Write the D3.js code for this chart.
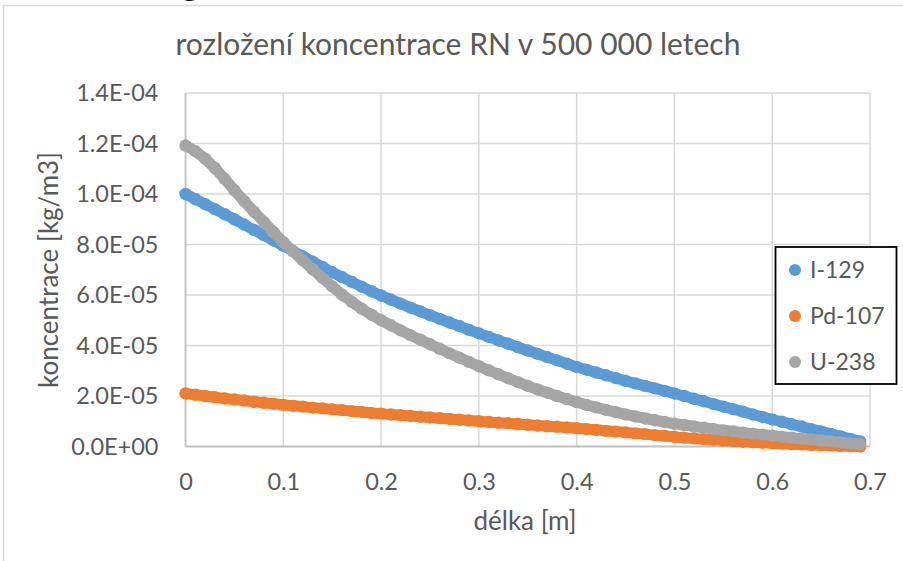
<!DOCTYPE html>
<html>
<head>
<meta charset="utf-8">
<script src="https://cdn.jsdelivr.net/npm/d3@7/dist/d3.min.js"></script>
<style>
  html, body { margin: 0; padding: 0; background: #fff; }
  svg { display: block; }
  text { font-family: Lato, "Open Sans", sans-serif; }
</style>
</head>
<body>
<svg id="chart" width="903" height="561"></svg>
<script>
// ---------- data ----------
const title = "rozložení koncentrace RN v 500 000 letech";
const xTitle = "délka [m]";
const yTitle = "koncentrace [kg/m3]";

const seriesNames = ["I-129", "Pd-107", "U-238"];
const seriesColors = ["#5B9BD5", "#ED7D31", "#A5A5A5"];

// x positions (m)
const xValues = [0.00,0.01,0.02,0.03,0.04,0.05,0.06,0.07,0.08,0.09,
  0.10,0.11,0.12,0.13,0.14,0.15,0.16,0.17,0.18,0.19,
  0.20,0.21,0.22,0.23,0.24,0.25,0.26,0.27,0.28,0.29,
  0.30,0.31,0.32,0.33,0.34,0.35,0.36,0.37,0.38,0.39,
  0.40,0.41,0.42,0.43,0.44,0.45,0.46,0.47,0.48,0.49,
  0.50,0.51,0.52,0.53,0.54,0.55,0.56,0.57,0.58,0.59,
  0.60,0.61,0.62,0.63,0.64,0.65,0.66,0.67,0.68,0.69];

// concentrations in units of 1e-5 kg/m3
const i129 = [10.00,9.80,9.60,9.40,9.20,9.00,8.79,8.58,8.37,8.16,
  7.95,7.74,7.53,7.32,7.11,6.90,6.71,6.52,6.33,6.15,
  5.98,5.82,5.66,5.50,5.35,5.20,5.05,4.91,4.77,4.62,
  4.48,4.34,4.20,4.07,3.93,3.80,3.67,3.54,3.41,3.28,
  3.15,3.04,2.93,2.82,2.71,2.60,2.50,2.40,2.30,2.20,
  2.10,2.00,1.89,1.79,1.68,1.58,1.48,1.38,1.27,1.17,
  1.07,0.98,0.88,0.79,0.69,0.60,0.50,0.40,0.30,0.20];

const pd107 = [2.10,2.05,2.00,1.95,1.90,1.86,1.82,1.77,1.73,1.69,
  1.65,1.61,1.58,1.54,1.51,1.47,1.44,1.40,1.37,1.33,
  1.30,1.27,1.24,1.21,1.18,1.15,1.12,1.09,1.06,1.03,
  1.00,0.97,0.94,0.92,0.89,0.86,0.83,0.80,0.78,0.75,
  0.72,0.69,0.66,0.62,0.59,0.56,0.52,0.49,0.45,0.42,
  0.38,0.35,0.32,0.29,0.27,0.24,0.22,0.19,0.17,0.15,
  0.13,0.11,0.09,0.08,0.06,0.05,0.04,0.02,0.01,0.00];

const u238 = [11.92,11.70,11.40,11.03,10.60,10.15,9.72,9.30,8.90,8.49,
  8.09,7.73,7.37,7.02,6.68,6.34,6.02,5.73,5.46,5.22,
  5.00,4.80,4.60,4.41,4.23,4.05,3.87,3.69,3.52,3.35,
  3.18,3.02,2.86,2.70,2.55,2.40,2.26,2.13,2.00,1.88,
  1.76,1.65,1.55,1.45,1.36,1.27,1.19,1.11,1.04,0.97,
  0.90,0.85,0.79,0.74,0.69,0.64,0.60,0.55,0.51,0.47,
  0.43,0.39,0.35,0.31,0.28,0.24,0.20,0.16,0.12,0.09];

const valueUnit = 1e-5;

const xTicks = [0, 0.1, 0.2, 0.3, 0.4, 0.5, 0.6, 0.7];
const xTickLabels = ["0", "0.1", "0.2", "0.3", "0.4", "0.5", "0.6", "0.7"];
const yTicks = [0, 2e-5, 4e-5, 6e-5, 8e-5, 1e-4, 1.2e-4, 1.4e-4];
const yTickLabels = ["0.0E+00", "2.0E-05", "4.0E-05", "6.0E-05", "8.0E-05", "1.0E-04", "1.2E-04", "1.4E-04"];

// ---------- drawing ----------
const svg = d3.select("#chart");
const textColor = "#595959";

const x = d3.scaleLinear().domain([0, 0.7]).range([185.5, 870]);
const y = d3.scaleLinear().domain([0, 1.4e-4]).range([446.5, 93]);

// chart frame (cut off at right/bottom)
svg.append("rect")
  .attr("x", 3.5).attr("y", 5.5).attr("width", 920).attr("height", 600)
  .attr("fill", "#fff").attr("stroke", "#D9D9D9").attr("stroke-width", 1.5);

// cut-off heading glyph above the chart
svg.append("text")
  .attr("x", 182).attr("y", -4)
  .attr("font-size", 30).attr("font-weight", "bold")
  .attr("fill", "#000").text("g");

// gridlines
const grid = svg.append("g");
grid.selectAll("line.h").data(yTicks.filter(d => d > 0)).join("line")
  .attr("x1", x(0)).attr("x2", x(0.7))
  .attr("y1", d => y(d)).attr("y2", d => y(d))
  .attr("stroke", "#D9D9D9").attr("stroke-width", 1.5);
grid.selectAll("line.v").data(xTicks.filter(d => d > 0)).join("line")
  .attr("y1", y(0)).attr("y2", y(1.4e-4))
  .attr("x1", d => x(d)).attr("x2", d => x(d))
  .attr("stroke", "#D9D9D9").attr("stroke-width", 1.5);

// axis lines
svg.append("line").attr("x1", x(0)).attr("x2", x(0)).attr("y1", y(0)).attr("y2", y(1.4e-4))
  .attr("stroke", "#BFBFBF").attr("stroke-width", 1.8);
svg.append("line").attr("x1", x(0)).attr("x2", x(0.7)).attr("y1", y(0)).attr("y2", y(0))
  .attr("stroke", "#BFBFBF").attr("stroke-width", 1.8);

// axes (labels only)
const yAxis = d3.axisLeft(y).tickValues(yTicks)
  .tickFormat((d, i) => yTickLabels[i]).tickSize(0).tickPadding(27);
const gy = svg.append("g").attr("transform", `translate(${x(0)},0)`).call(yAxis);
gy.select(".domain").remove();
gy.selectAll("text").attr("font-size", 23.5).attr("fill", textColor)
  .attr("font-family", "Lato, 'Open Sans', sans-serif");

const xAxis = d3.axisBottom(x).tickValues(xTicks)
  .tickFormat((d, i) => xTickLabels[i]).tickSize(0).tickPadding(27);
const gx = svg.append("g").attr("transform", `translate(0,${y(0)})`).call(xAxis);
gx.select(".domain").remove();
gx.selectAll("text").attr("font-size", 23.5).attr("fill", textColor)
  .attr("font-family", "Lato, 'Open Sans', sans-serif");

// titles
svg.append("text").attr("x", 458).attr("y", 55).attr("text-anchor", "middle")
  .attr("font-size", 30).attr("fill", textColor).text(title);
svg.append("text").attr("x", 525).attr("y", 530).attr("text-anchor", "middle")
  .attr("font-size", 26).attr("fill", textColor).text(xTitle);
svg.append("text").attr("transform", "translate(58,270) rotate(-90)")
  .attr("text-anchor", "middle").attr("font-size", 26).attr("fill", textColor).text(yTitle);

// series
const allSeries = [i129, pd107, u238];
const line = d3.line().x(d => x(d[0])).y(d => y(d[1]));
allSeries.forEach((vals, si) => {
  const pts = xValues.map((xv, i) => [xv, vals[i] * valueUnit]);
  const g = svg.append("g");
  g.append("path").attr("d", line(pts)).attr("fill", "none")
    .attr("stroke", seriesColors[si]).attr("stroke-width", 11)
    .attr("stroke-linecap", "round").attr("stroke-linejoin", "round");
  g.selectAll("circle").data(pts).join("circle")
    .attr("cx", d => x(d[0])).attr("cy", d => y(d[1])).attr("r", 6.2)
    .attr("fill", seriesColors[si]);
});

// legend
const lg = svg.append("g");
lg.append("rect").attr("x", 775.5).attr("y", 247).attr("width", 121).attr("height", 137)
  .attr("fill", "#fff").attr("stroke", "#000").attr("stroke-width", 1.8);
const legendY = [270, 316, 362];
seriesNames.forEach((name, i) => {
  lg.append("circle").attr("cx", 795).attr("cy", legendY[i]).attr("r", 6)
    .attr("fill", seriesColors[i]);
  lg.append("text").attr("x", 810).attr("y", legendY[i]).attr("dy", "0.36em")
    .attr("font-size", 23).attr("fill", textColor).text(name);
});
</script>
</body>
</html>
